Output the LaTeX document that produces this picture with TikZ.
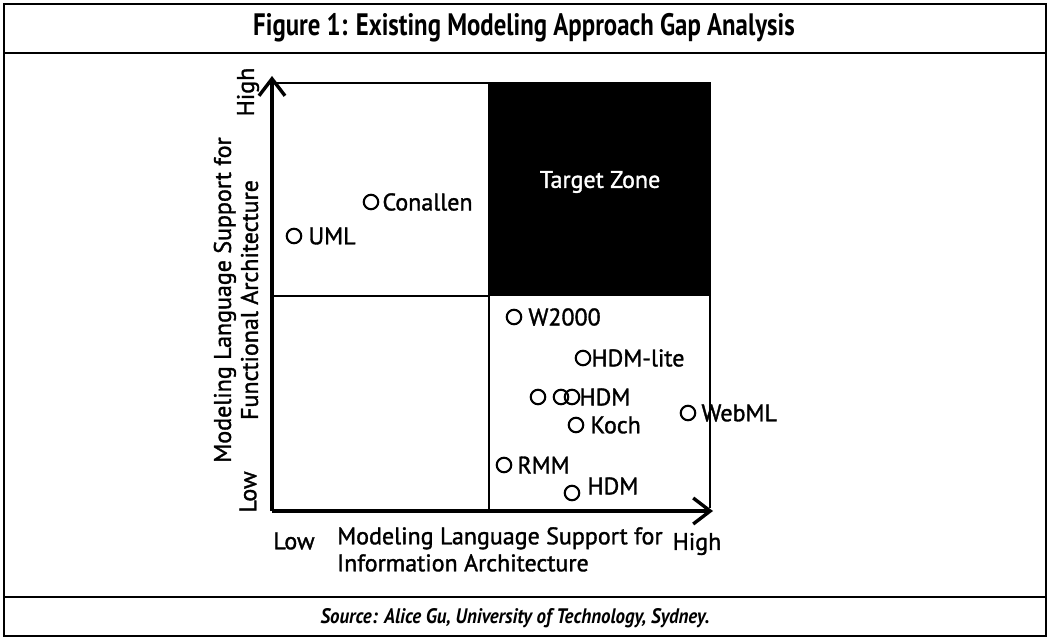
\documentclass[tikz,border=0pt]{standalone}
\usepackage{fontspec}
\setmainfont{PT Sans}
\newfontfamily\gsfont{PT Sans}[FakeBold=1.4]
\usetikzlibrary{arrows.meta,positioning}
\begin{document}
\begin{tikzpicture}[x=1pt,y=-1pt,
  frame/.style={line width=2.2pt},
  grid/.style={line width=1.8pt},
  axis/.style={line width=3.6pt,-{Straight Barb[length=17pt,width=26pt,line width=3.4pt]}},
  mk/.style={draw,circle,line width=2.1pt,minimum size=14.5pt,inner sep=0pt},
  lbl/.style={inner sep=0pt,font=\gsfont\fontsize{24}{26}\selectfont,anchor=west},
  axlbl/.style={inner sep=0pt,font=\gsfont\fontsize{24}{27}\selectfont},
  ttl/.style={inner sep=0pt,font=\fontsize{31}{33}\selectfont\bfseries},
  src/.style={inner sep=0pt,font=\fontsize{21}{24}\selectfont\bfseries\itshape}]
\useasboundingbox (0,0) rectangle (1051,639);
% outer frame with title and source bands
\draw[frame] (4,4) rectangle (1046,636);
\draw[frame] (4,53) -- (1046,53);
\draw[frame] (4,597) -- (1046,597);
\node[ttl] (title) at (524,28) {\scalebox{0.8}[1]{Figure 1: Existing Modeling Approach Gap Analysis}};
\node[src] (source) at (515,618) {\scalebox{0.9}[1]{Source: Alice Gu, University of Technology, Sydney.}};
% quadrants
\coordinate (o) at (272,511);
\coordinate (ytop) at (272,76);
\coordinate (xend) at (713,511);
\fill (489,83) rectangle (710,296);
\draw[grid] (272,83) -- (710,83) -- (710,508);
\draw[grid] (489,83) -- (489,511);
\draw[grid] (272,296) -- (489,296);
\node[inner sep=0pt,text=white,font=\gsfont\fontsize{24}{26}\selectfont] (tz) at (600,182) {Target Zone};
% axes
\draw[axis] (o) -- (ytop);
\draw[axis] (o) -- (xend);
% axis labels
\node[axlbl] (xlow) at (294,541) {Low};
\node[axlbl,anchor=north west,align=left] (xname) at (337,527) {Modeling Language Support for\\Information Architecture};
\node[axlbl] (xhigh) at (697,544) {High};
\node[axlbl,rotate=90] (yhigh) at (248,92) {High};
\node[axlbl,rotate=90] (ylow) at (248,492) {Low};
\node[axlbl,rotate=90,align=center] (yname) at (236,300) {Modeling Language Support for\\Functional Architecture};
% approaches
\node[mk] (uml) at (294,236) {};
\node[lbl] at ([xshift=6pt]uml.east) {UML};
\node[mk] (conallen) at (371,202) {};
\node[lbl] at ([xshift=3pt]conallen.east) {Conallen};
\node[mk] (w2000) at (514,317) {};
\node[lbl] at ([xshift=6pt]w2000.east) {W2000};
\node[mk] (hdmlite) at (583,358) {};
\node[lbl] at ([xshift=0pt]hdmlite.east) {HDM-lite};
\node[mk] (p1) at (538,397) {};
\node[mk] (p2) at (561,397) {};
\node[mk] (oohdm) at (572,397) {};
\node[lbl] at ([xshift=-1pt]oohdm.east) {HDM};
\node[mk] (koch) at (576,425) {};
\node[lbl] at ([xshift=6pt]koch.east) {Koch};
\node[mk] (webml) at (688,413) {};
\node[lbl] at ([xshift=5pt]webml.east) {WebML};
\node[mk] (rmm) at (504,465) {};
\node[lbl] at ([xshift=5pt]rmm.east) {RMM};
\node[mk] (hdm) at (572,493) {};
\node[lbl] at ([xshift=7pt,yshift=7pt]hdm.east) {HDM};
\end{tikzpicture}
\end{document}
